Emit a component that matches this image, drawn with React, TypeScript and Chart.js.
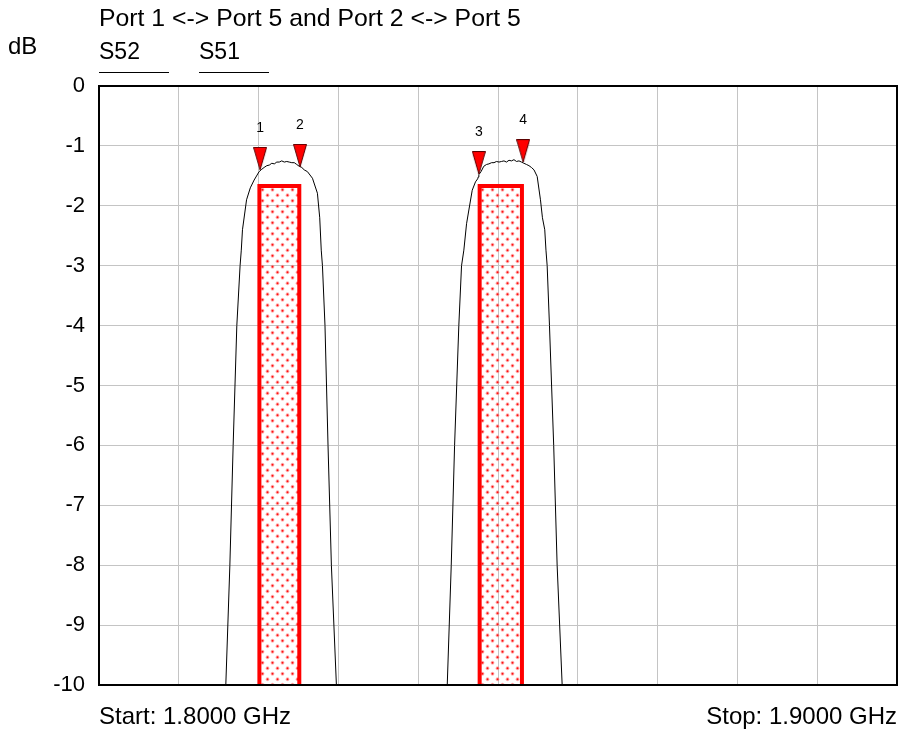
import React, { useEffect, useRef } from 'react';
import { Chart, registerables } from 'chart.js';

Chart.register(...registerables);

const FONT = "'Liberation Sans', Arial, sans-serif";

const TITLE = 'Port 1 <-> Port 5 and Port 2 <-> Port 5';
const Y_UNIT = 'dB';
const START_LABEL = 'Start: 1.8000 GHz';
const STOP_LABEL = 'Stop: 1.9000 GHz';

const F_START = 1.8;
const F_STOP = 1.9;
const X_GRID = [1.8, 1.81, 1.82, 1.83, 1.84, 1.85, 1.86, 1.87, 1.88, 1.89, 1.9];
const DB_MIN = -10;
const DB_MAX = 0;
const DB_STEP = 1;

const LEGEND_LABELS = ['S52', 'S51'];

// Trace 1 (lower band)
const S52_FREQ = [
  1.81589, 1.8164, 1.81681, 1.81727, 1.81768, 1.81783, 1.81798, 1.81849, 1.81896, 1.81944,
  1.82006, 1.8204, 1.82069, 1.82103, 1.82134, 1.82165, 1.82197, 1.82228, 1.82259, 1.8229,
  1.82322, 1.82353, 1.82384, 1.82416, 1.82447, 1.82478, 1.82509, 1.82541, 1.82572, 1.82612,
  1.82675, 1.82737, 1.82766, 1.82785, 1.828, 1.82832, 1.8287, 1.82912, 1.82975,
];
const S52_DB = [
  -10, -8, -6, -4, -3, -2.74, -2.4, -1.9, -1.7, -1.57,
  -1.43, -1.39, -1.36, -1.33, -1.32, -1.29, -1.3, -1.27, -1.27, -1.25,
  -1.27, -1.26, -1.27, -1.28, -1.28, -1.31, -1.34, -1.36, -1.4, -1.43,
  -1.54, -1.79, -2.2, -2.74, -3, -4, -6, -8, -10,
];

// Trace 2 (upper band)
const S51_FREQ = [
  1.84364, 1.84414, 1.84456, 1.84509, 1.84543, 1.84572, 1.84606, 1.84635, 1.84677, 1.84718,
  1.84745, 1.84752, 1.8476, 1.84787, 1.84822, 1.84856, 1.84887, 1.84919, 1.8495, 1.84981,
  1.85013, 1.85044, 1.85075, 1.85106, 1.85138, 1.85169, 1.852, 1.85232, 1.85263, 1.85294,
  1.85325, 1.85357, 1.85388, 1.85419, 1.85451, 1.85491, 1.85532, 1.85557, 1.85586, 1.85601,
  1.85616, 1.85645, 1.85698, 1.85741, 1.85804,
];
const S51_DB = [
  -10, -8, -6, -4, -3, -2.74, -2.3, -2.07, -1.74, -1.6,
  -1.55, -1.52, -1.48, -1.43, -1.34, -1.31, -1.3, -1.28, -1.28, -1.26,
  -1.27, -1.26, -1.25, -1.27, -1.24, -1.25, -1.23, -1.26, -1.25, -1.27,
  -1.29, -1.31, -1.33, -1.36, -1.4, -1.51, -1.9, -2.2, -2.4, -2.74,
  -3, -4, -6, -8, -10,
];

// Limit masks
const MASK1_FREQ = [1.8201, 1.8201, 1.8251, 1.8251];
const MASK1_DB = [-10, -1.67, -1.67, -10];
const MASK2_FREQ = [1.8477, 1.8477, 1.853, 1.853];
const MASK2_DB = [-10, -1.67, -1.67, -10];

// Markers
const MARKER_LABELS = ['1', '2', '3', '4'];
const MARKER_FREQ = [1.82019, 1.82519, 1.8476, 1.85315];
const MARKER_DB = [-1.4, -1.35, -1.47, -1.27];

const pts = (xs: number[], ys: number[]) => xs.map((x, i) => ({ x, y: ys[i] }));

export default function App() {
  const ref = useRef<HTMLCanvasElement | null>(null);

  useEffect(() => {
    const canvas = ref.current;
    if (!canvas) return;
    const ctx = canvas.getContext('2d')!;

    // dotted fill pattern
    const pc = document.createElement('canvas');
    pc.width = 10;
    pc.height = 11;
    const pg = pc.getContext('2d')!;
    const dot = (x: number, y: number) => {
      pg.fillStyle = 'rgba(255,90,90,0.45)';
      pg.beginPath();
      pg.arc(x, y, 1.9, 0, Math.PI * 2);
      pg.fill();
      pg.fillStyle = 'rgba(255,0,0,0.9)';
      pg.beginPath();
      pg.arc(x, y, 1, 0, Math.PI * 2);
      pg.fill();
    };
    dot(2.5, 2.75);
    dot(7.5, 8.25);
    const pattern = ctx.createPattern(pc, 'repeat')!;

    // marker triangle, tip at canvas centre
    const tc = document.createElement('canvas');
    tc.width = 14;
    tc.height = 46;
    const tg = tc.getContext('2d')!;
    tg.fillStyle = '#ff0000';
    tg.strokeStyle = '#5a0000';
    tg.lineWidth = 1;
    tg.beginPath();
    tg.moveTo(0.5, 0.5);
    tg.lineTo(13.5, 0.5);
    tg.lineTo(7, 23);
    tg.closePath();
    tg.fill();
    tg.stroke();

    const decor = {
      id: 'decor',
      afterDatasetsDraw(chart: any) {
        const c = chart.ctx;
        const a = chart.chartArea;
        c.save();
        // frame
        c.strokeStyle = '#000';
        c.lineWidth = 2;
        c.strokeRect(a.left, a.top, a.right - a.left, a.bottom - a.top);
        // marker labels
        const meta = chart.getDatasetMeta(0);
        c.fillStyle = '#000';
        c.font = `14px ${FONT}`;
        c.textAlign = 'center';
        c.textBaseline = 'middle';
        meta.data.forEach((el: any, i: number) => {
          c.fillText(MARKER_LABELS[i], el.x, el.y - 42);
        });
        c.restore();
      },
      afterDraw(chart: any) {
        const c = chart.ctx;
        const a = chart.chartArea;
        c.save();
        c.fillStyle = '#000';
        c.textBaseline = 'middle';
        c.textAlign = 'left';
        c.font = `24.8px ${FONT}`;
        c.fillText(TITLE, a.left, 19);
        c.font = `24px ${FONT}`;
        c.fillText(Y_UNIT, 8, 47);
        c.font = `23px ${FONT}`;
        LEGEND_LABELS.forEach((lab, i) => {
          const lx = a.left + i * 100;
          c.fillStyle = '#000';
          c.fillText(lab, lx, 53);
          c.strokeStyle = '#000';
          c.lineWidth = 1;
          c.beginPath();
          c.moveTo(lx, 72.5);
          c.lineTo(lx + 70, 72.5);
          c.stroke();
        });
        c.restore();
      },
    };

    const chart = new Chart(canvas, {
      type: 'line',
      data: {
        datasets: [
          {
            label: 'Markers',
            data: pts(MARKER_FREQ, MARKER_DB),
            showLine: false,
            pointStyle: tc as any,
            pointRadius: 6,
            borderColor: 'transparent',
            backgroundColor: 'transparent',
          },
          {
            label: LEGEND_LABELS[0],
            data: pts(S52_FREQ, S52_DB),
            borderColor: '#000',
            borderWidth: 1,
            pointRadius: 0,
            tension: 0,
            fill: false,
          },
          {
            label: LEGEND_LABELS[1],
            data: pts(S51_FREQ, S51_DB),
            borderColor: '#000',
            borderWidth: 1,
            pointRadius: 0,
            tension: 0,
            fill: false,
          },
          {
            label: 'Mask 1',
            data: pts(MASK1_FREQ, MASK1_DB),
            borderColor: '#ff0000',
            borderWidth: 4,
            pointRadius: 0,
            tension: 0,
            fill: 'start',
            backgroundColor: pattern as any,
          },
          {
            label: 'Mask 2',
            data: pts(MASK2_FREQ, MASK2_DB),
            borderColor: '#ff0000',
            borderWidth: 4,
            pointRadius: 0,
            tension: 0,
            fill: 'start',
            backgroundColor: pattern as any,
          },
        ],
      },
      options: {
        animation: false,
        responsive: false,
        events: [],
        layout: { autoPadding: false, padding: { top: 86, right: 2, bottom: 0, left: 0 } },
        plugins: {
          legend: { display: false },
          title: { display: false },
          tooltip: { enabled: false },
        },
        scales: {
          x: {
            type: 'linear',
            min: F_START,
            max: F_STOP,
            afterBuildTicks: (s: any) => {
              s.ticks = X_GRID.map((v) => ({ value: v }));
            },
            afterFit: (s: any) => {
              s.height = 45;
              s.paddingLeft = 0;
              s.paddingRight = 0;
            },
            grid: { color: '#c4c4c4', lineWidth: 1, drawTicks: false },
            border: { display: false },
            ticks: {
              autoSkip: false,
              maxRotation: 0,
              align: 'inner',
              padding: 18,
              color: '#000',
              font: { family: FONT, size: 24 },
              callback: (_v: any, i: number, ticks: any[]) =>
                i === 0 ? START_LABEL : i === ticks.length - 1 ? STOP_LABEL : '',
            },
          },
          y: {
            type: 'linear',
            min: DB_MIN,
            max: DB_MAX,
            afterFit: (s: any) => {
              s.width = 99;
            },
            grid: { color: '#c4c4c4', lineWidth: 1, drawTicks: false },
            border: { display: false },
            ticks: {
              stepSize: DB_STEP,
              padding: 14,
              color: '#000',
              font: { family: FONT, size: 22 },
            },
          },
        },
      },
      plugins: [decor],
    });

    return () => chart.destroy();
  }, []);

  return (
    <div style={{ position: 'absolute', left: 0, top: 0, width: 899, height: 730, background: '#fff' }}>
      <canvas ref={ref} width={899} height={730} />
    </div>
  );
}
